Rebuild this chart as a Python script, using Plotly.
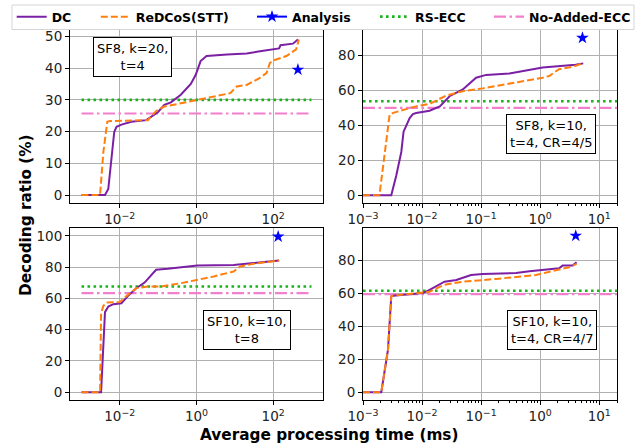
import plotly.graph_objects as go

# ---------------- data ----------------
# Panel A: SF8, k=20, t=4
a_dc_x = [0.001, 0.0041, 0.005, 0.0061, 0.00714, 0.0082, 0.011, 0.020, 0.049, 0.098, 0.145, 0.215,
          0.39, 0.71, 0.955, 1.28, 1.83, 6.3, 20.4, 45.3, 100, 143, 155, 328, 442]
a_dc_y = [0, 0, 1.9, 11.4, 19.9, 21.5, 22.2, 23.1, 23.6, 26.1, 28.4, 29.2,
          31.6, 35.0, 37.9, 42.2, 43.8, 44.3, 44.6, 45.3, 45.9, 46.2, 47.2, 47.7, 49.0]
a_re_x = [0.001, 0.00305, 0.00372, 0.00471, 0.0055, 0.0537, 0.089, 0.145, 0.39, 1.05, 2.82, 7.6,
          11.2, 20.4, 45.3, 67.6, 82, 100, 221, 398, 468]
a_re_y = [0, 0, 13.6, 23.1, 23.3, 23.6, 26.5, 27.9, 28.9, 30.0, 31.0, 32.1,
          34.2, 34.7, 36.9, 38.5, 41.6, 42.4, 43.8, 45.9, 49.0]
a_an_x, a_an_y = [442], [39.5]
a_rs, a_no = 30.0, 25.7

# Panel B: SF8, k=10, t=4, CR=4/5
b_dc_x = [0.001, 0.00301, 0.00366, 0.00445, 0.00486, 0.00555, 0.00617, 0.0070, 0.00794, 0.0134,
          0.020, 0.0292, 0.049, 0.0822, 0.1216, 0.302, 1.10, 3.98, 5.37]
b_dc_y = [0, 0, 11.2, 24.7, 36.3, 40.2, 44.1, 46.4, 47.0, 48.3,
          50.8, 56.6, 60.5, 67.2, 68.8, 69.6, 73.0, 74.6, 75.4]
b_re_x = [0.001, 0.0019, 0.00282, 0.00324, 0.00794, 0.0134, 0.0257, 0.049, 0.107, 0.39, 1.10,
          1.43, 2.09, 3.55, 5.25]
b_re_y = [0, 0, 46.0, 47.1, 50.8, 52.2, 57.0, 59.5, 61.1, 64.3, 67.2,
          68.2, 72.1, 73.4, 75.4]
b_an_x, b_an_y = [5.2], [90.0]
b_rs, b_no = 53.7, 49.9

# Panel C: SF10, k=10, t=8
c_dc_x = [0.001, 0.00324, 0.0041, 0.005, 0.00676, 0.011, 0.0164, 0.0269, 0.0442, 0.0883, 0.177,
          1.05, 9.3, 30.5, 143]
c_dc_y = [0, 0, 51.2, 54.8, 56.3, 56.9, 61.6, 66.5, 70.1, 78.3, 78.9,
          81.0, 81.4, 82.5, 84.2]
c_re_x = [0.001, 0.00305, 0.00324, 0.00372, 0.00453, 0.01, 0.0164, 0.0269, 0.0537, 0.119, 0.39,
          1.05, 2.82, 9.3, 13.8, 30.5, 143]
c_re_y = [0, 0, 50.5, 55.2, 57.4, 57.6, 62.3, 66.5, 67.6, 67.6, 69.7,
          71.9, 74.0, 77.2, 80.4, 82.1, 84.2]
c_an_x, c_an_y = [135], [99.5]
c_rs, c_no = 67.6, 63.3

# Panel D: SF10, k=10, t=4, CR=4/7
d_dc_x = [0.001, 0.00204, 0.00265, 0.00301, 0.00324, 0.01033, 0.0134, 0.024, 0.038, 0.0676,
          0.107, 0.39, 0.66, 1.10, 2.09, 2.40, 3.55, 4.14]
d_dc_y = [0, 0, 25.9, 58.2, 58.6, 60.2, 62.2, 67.1, 68.2, 71.2,
          71.8, 72.4, 73.5, 74.3, 75.3, 76.9, 76.9, 79.0]
d_re_x = [0.001, 0.00204, 0.00265, 0.00301, 0.00324, 0.01033, 0.0134, 0.024, 0.049, 0.179,
          0.851, 2.09, 3.09, 4.14]
d_re_y = [0, 0, 25.9, 58.2, 58.6, 60.2, 61.0, 65.3, 67.1, 68.8,
          71.2, 74.5, 75.9, 78.0]
d_an_x, d_an_y = [4.0], [95.0]
d_rs, d_no = 61.6, 59.6

hline_x = [0.001, 1000]

box_texts = ["SF8, k=20,<br>t=4", "SF8, k=10,<br>t=4, CR=4/5",
             "SF10, k=10,<br>t=8", "SF10, k=10,<br>t=4, CR=4/7"]
series_names = ["DC", "ReDCoS(STT)", "Analysis", "RS-ECC", "No-Added-ECC"]

left_tickvals = [0.01, 1, 100]
left_ticktext = ["10<sup>\u22122</sup>", "10<sup>0</sup>", "10<sup>2</sup>"]
right_tickvals = [0.001, 0.01, 0.1, 1, 10]
right_ticktext = ["10<sup>\u22123</sup>", "10<sup>\u22122</sup>", "10<sup>\u22121</sup>",
                  "10<sup>0</sup>", "10<sup>1</sup>"]
ytick_a = [0, 10, 20, 30, 40, 50]
ytick_b = [0, 20, 40, 60, 80]
ytick_c = [0, 20, 40, 60, 80, 100]
ytick_d = [0, 20, 40, 60, 80]

# ---------------- styling ----------------
W, H = 641, 443
FONT = "DejaVu Sans"
C_DC = "#7b1fa5"
C_RE = "#ff7f0e"
C_AN = "#0000ff"
C_RS = "#1db31d"
C_NO = "#f27fcd"


def px(x):
    return x / W


def py(y):
    return 1 - y / H


fig = go.Figure()

panels = [
    dict(ax="", dcx=a_dc_x, dcy=a_dc_y, rex=a_re_x, rey=a_re_y, anx=a_an_x, any=a_an_y, rs=a_rs, no=a_no),
    dict(ax="2", dcx=b_dc_x, dcy=b_dc_y, rex=b_re_x, rey=b_re_y, anx=b_an_x, any=b_an_y, rs=b_rs, no=b_no),
    dict(ax="3", dcx=c_dc_x, dcy=c_dc_y, rex=c_re_x, rey=c_re_y, anx=c_an_x, any=c_an_y, rs=c_rs, no=c_no),
    dict(ax="4", dcx=d_dc_x, dcy=d_dc_y, rex=d_re_x, rey=d_re_y, anx=d_an_x, any=d_an_y, rs=d_rs, no=d_no),
]

legend_ids = ["legend", "legend2", "legend3", "legend4", "legend5"]

for i, p in enumerate(panels):
    xa, ya = "x" + p["ax"], "y" + p["ax"]
    show = i == 0
    fig.add_trace(go.Scatter(x=hline_x, y=[p["rs"], p["rs"]], mode="lines", name=series_names[3],
                             line=dict(color=C_RS, width=2.6, dash="2.6px,3.4px"),
                             xaxis=xa, yaxis=ya, showlegend=show, legend=legend_ids[3]))
    fig.add_trace(go.Scatter(x=hline_x, y=[p["no"], p["no"]], mode="lines", name=series_names[4],
                             line=dict(color=C_NO, width=2.2, dash="12px,3.5px,2.5px,3.5px"),
                             xaxis=xa, yaxis=ya, showlegend=show, legend=legend_ids[4]))
    fig.add_trace(go.Scatter(x=p["dcx"], y=p["dcy"], mode="lines", name=series_names[0],
                             line=dict(color=C_DC, width=2),
                             xaxis=xa, yaxis=ya, showlegend=show, legend=legend_ids[0]))
    fig.add_trace(go.Scatter(x=p["rex"], y=p["rey"], mode="lines", name=series_names[1],
                             line=dict(color=C_RE, width=2, dash="7px,3px"),
                             xaxis=xa, yaxis=ya, showlegend=show, legend=legend_ids[1]))
    fig.add_trace(go.Scatter(x=p["anx"], y=p["any"], mode="lines+markers", name=series_names[2],
                             line=dict(color=C_AN, width=2),
                             marker=dict(symbol="star", size=9.5, color=C_AN),
                             xaxis=xa, yaxis=ya, showlegend=show, legend=legend_ids[2]))

tick_font = dict(family=FONT, size=13.5, color="#222222")

doms = {
    "": ((70, 323), (30, 203)),
    "2": ((363, 617), (30, 203)),
    "3": ((70, 323), (228, 400)),
    "4": ((363, 617), (228, 400)),
}
yranges = {"": [-2.5, 52], "2": [-4.5, 94.5], "3": [-5, 105], "4": [-4.75, 99.75]}
yticks = {"": ytick_a, "2": ytick_b, "3": ytick_c, "4": ytick_d}

minor_right = [m * 10 ** e for e in range(-3, 2) for m in range(2, 10)]

layout_axes = {}
for k, ((x0, x1), (y0, y1)) in doms.items():
    right = k in ("2", "4")
    xax = dict(
        type="log", domain=[px(x0), px(x1)], anchor="y" + k,
        range=[-3, 1.30103] if right else [-3.3, 3.3],
        tickmode="array",
        tickvals=right_tickvals if right else left_tickvals,
        ticktext=right_ticktext if right else left_ticktext,
        ticks="outside", ticklen=4, tickwidth=1, tickcolor="black",
        showline=True, mirror=True, linecolor="black", linewidth=1,
        showgrid=True, gridcolor="#b0b0b0", gridwidth=1,
        zeroline=False, tickfont=tick_font, automargin=False,
    )
    if right:
        xax["minor"] = dict(tickmode="array", tickvals=minor_right, ticks="outside",
                            ticklen=2, tickcolor="black", showgrid=False)
    yax = dict(
        domain=[py(y1), py(y0)], anchor="x" + k,
        range=yranges[k], tickmode="array", tickvals=yticks[k],
        ticks="outside", ticklen=4, tickwidth=1, tickcolor="black",
        showline=True, mirror=True, linecolor="black", linewidth=1,
        showgrid=True, gridcolor="#b0b0b0", gridwidth=1,
        zeroline=False, tickfont=tick_font, automargin=False,
    )
    layout_axes["xaxis" + k] = xax
    layout_axes["yaxis" + k] = yax

fig.update_layout(**layout_axes)

# text boxes
box_centers = [(132, 57.5), (551, 134), (246.7, 329.5), (551.7, 329.5)]
annotations = []
for (cx, cy), t in zip(box_centers, box_texts):
    annotations.append(dict(
        x=px(cx), y=py(cy), xref="paper", yref="paper", text=t, showarrow=False,
        xanchor="center", yanchor="middle", align="center",
        font=dict(family=FONT, size=13, color="black"),
        bgcolor="white", bordercolor="black", borderwidth=1, borderpad=3,
    ))
# shared axis titles
annotations.append(dict(x=px(329), y=py(434.5), xref="paper", yref="paper",
                        text="Average processing time (ms)", showarrow=False,
                        xanchor="center", yanchor="middle",
                        font=dict(family=FONT, size=15.3, color="black", weight="bold")))
annotations.append(dict(x=px(26), y=py(215), xref="paper", yref="paper",
                        text="Decoding ratio (%)", showarrow=False, textangle=-90,
                        xanchor="center", yanchor="middle",
                        font=dict(family=FONT, size=15.3, color="black", weight="bold")))

# legends
legend_text_x = [51.7, 135.8, 292, 415, 529]
leg_font = dict(family=FONT, size=12.5, color="black", weight="bold")
legends = {}
for lid, tx in zip(legend_ids, legend_text_x):
    legends[lid] = dict(x=(tx - 40) / W, y=1 - 17 / H, xref="container", yref="container",
                        xanchor="left", yanchor="middle",
                        orientation="h", bgcolor="rgba(0,0,0,0)", borderwidth=0,
                        font=leg_font, itemwidth=30)

fig.update_layout(
    width=W, height=H, autosize=False,
    margin=dict(l=0, r=0, t=0, b=0, autoexpand=False),
    paper_bgcolor="white", plot_bgcolor="white",
    annotations=annotations,
    shapes=[dict(type="rect", xref="paper", yref="paper",
                 x0=px(12), x1=px(634), y0=py(29.5), y1=py(5),
                 line=dict(color="#d5d5d5", width=1), fillcolor="rgba(255,255,255,0.8)",
                 layer="above")],
    **legends,
)

fig.write_html("out.html", config={"displayModeBar": False},
               post_script="document.body.style.margin='0';document.body.style.overflow='hidden';")
